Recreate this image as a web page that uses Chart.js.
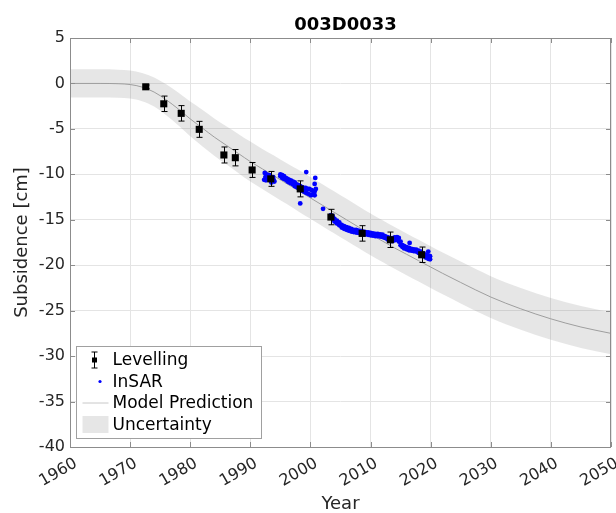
<!DOCTYPE html>
<html>
<head>
<meta charset="utf-8">
<script src="https://cdn.jsdelivr.net/npm/chart.js@4"></script>
<style>
  html, body { margin: 0; padding: 0; background: #fff; }
  #chart { display: block; }
</style>
</head>
<body>
<canvas id="chart" width="616" height="513"></canvas>
<script>
// texts
const titleText = '003D0033';
const xTitle = 'Year';
const yTitle = 'Subsidence [cm]';
const legendLabels = ['Levelling', 'InSAR', 'Model Prediction', 'Uncertainty'];

// axis ranges / ticks
const xTicks = [1960, 1970, 1980, 1990, 2000, 2010, 2020, 2030, 2040, 2050];
const yTicks = [5, 0, -5, -10, -15, -20, -25, -30, -35, -40];

// levelling benchmarks (cm) with error bars
const levYears  = [1972.6, 1975.6, 1978.5, 1981.5, 1985.6, 1987.5, 1990.3, 1993.4, 1998.3, 2003.4, 2008.6, 2013.3, 2018.5];
const levValues = [-0.37, -2.24, -3.29, -5.05, -7.87, -8.17, -9.52, -10.5, -11.6, -14.7, -16.5, -17.2, -18.85];
const levErrors = [0.2, 0.85, 0.85, 0.88, 0.88, 0.9, 0.82, 0.82, 0.88, 0.85, 0.85, 0.85, 0.85];

// model prediction and its uncertainty (half width, cm)
const modelYears  = [1960, 1965, 1968, 1970, 1972, 1974, 1976, 1978, 1980, 1982,
                     1984, 1986, 1988, 1990, 1992, 1994, 1996, 1998, 2000, 2002,
                     2004, 2006, 2008, 2010, 2012, 2014, 2016, 2018, 2020, 2022,
                     2025, 2030, 2035, 2040, 2045, 2050];
const modelValues = [0, 0, -0.03, -0.12, -0.4, -0.95, -1.8, -2.8, -3.9, -4.9,
                     -5.9, -6.8, -7.7, -8.6, -9.4, -10.2, -11.0, -11.8, -12.6, -13.4,
                     -14.2, -15.0, -15.8, -16.6, -17.35, -18.1, -18.8, -19.5, -20.2, -20.9,
                     -21.9, -23.5, -24.8, -25.9, -26.8, -27.5];
const modelSigma  = [1.55, 1.55, 1.55, 1.55, 1.55, 1.6, 1.7, 1.8, 1.9, 2.0,
                     2.05, 2.1, 2.15, 2.2, 2.2, 2.25, 2.25, 2.3, 2.3, 2.3,
                     2.3, 2.3, 2.3, 2.3, 2.3, 2.3, 2.3, 2.3, 2.3, 2.3,
                     2.3, 2.3, 2.3, 2.3, 2.3, 2.3];

// InSAR time series (cm)
const insarYears = [
  // early cluster
  1992.3, 1992.4, 1992.5, 1992.6, 1992.7, 1992.8, 1993.0, 1993.2, 1993.5, 1993.8, 1993.9, 1994.0,
  // 1995-2001
  1995.0, 1995.0, 1995.3, 1995.3, 1995.6, 1995.6, 1995.9, 1995.9, 1996.2, 1996.2,
  1996.5, 1996.5, 1996.8, 1996.8, 1997.1, 1997.1, 1997.4, 1997.4, 1997.7, 1997.7,
  1998.0, 1998.0, 1998.3, 1998.3, 1998.6, 1998.6, 1998.9, 1998.9, 1999.2, 1999.2,
  1999.5, 1999.5, 1999.8, 1999.8, 2000.1, 2000.1, 2000.4, 2000.4, 2000.7, 2000.7,
  1999.3, 2000.8, 2000.7, 1998.3, 2002.1, 2000.9,
  // 2003-2020
  2003.4, 2003.7, 2003.7, 2004.0, 2004.0, 2004.4, 2004.4, 2004.8, 2004.8, 2005.2, 2005.2,
  2005.6, 2005.6, 2006.0, 2006.0, 2006.4, 2006.4, 2006.8, 2006.8, 2007.2, 2007.2,
  2007.6, 2007.6, 2008.0, 2008.0, 2008.4, 2008.4, 2008.8, 2008.8, 2009.2, 2009.2,
  2009.6, 2009.6, 2010.0, 2010.0, 2010.4, 2010.4, 2010.8, 2010.8, 2011.2, 2011.2,
  2011.6, 2011.6, 2012.0, 2012.0, 2012.4, 2012.4, 2012.8, 2012.8, 2013.2, 2013.2,
  2013.6, 2013.6, 2014.0, 2014.0, 2014.4, 2014.4, 2014.7, 2014.7, 2015.0, 2015.0,
  2015.3, 2015.3, 2015.6, 2015.6, 2016.0, 2016.0, 2016.4, 2016.4, 2016.8, 2016.8,
  2017.2, 2017.2, 2017.6, 2017.6, 2018.0, 2018.0, 2018.4, 2018.4, 2018.8, 2018.8,
  2019.2, 2019.2, 2019.6, 2019.6, 2019.9, 2019.9,
  2016.5, 2019.6
];
const insarValues = [
  -10.6, -9.85, -10.3, -10.65, -10.0, -10.1, -10.45, -10.1, -10.9, -10.3, -10.65, -10.8,
  -10.0, -10.2, -10.1, -10.4, -10.2, -10.5, -10.4, -10.6, -10.5, -10.8,
  -10.6, -10.9, -10.7, -11.0, -10.8, -11.1, -10.9, -11.3, -11.1, -11.4,
  -11.2, -11.5, -11.3, -11.7, -11.4, -11.8, -11.5, -11.9, -11.5, -12.0,
  -11.6, -12.1, -11.6, -12.2, -11.7, -12.3, -11.8, -12.2, -11.9, -12.3,
  -9.75, -10.4, -11.05, -13.2, -13.8, -11.6,
  -14.5, -14.6, -14.9, -14.9, -15.2, -15.1, -15.4, -15.3, -15.6, -15.55, -15.85,
  -15.7, -16.0, -15.8, -16.1, -15.9, -16.2, -16.0, -16.3, -16.1, -16.35,
  -16.1, -16.4, -16.2, -16.45, -16.25, -16.5, -16.3, -16.55, -16.35, -16.6,
  -16.4, -16.65, -16.45, -16.7, -16.5, -16.75, -16.55, -16.8, -16.55, -16.8,
  -16.6, -16.85, -16.65, -16.9, -16.8, -17.0, -16.9, -17.15, -17.0, -17.3,
  -17.05, -17.35, -16.95, -17.25, -16.9, -17.2, -17.0, -17.4, -17.4, -17.8,
  -17.8, -18.0, -17.9, -18.15, -18.0, -18.25, -18.1, -18.35, -18.2, -18.4,
  -18.25, -18.45, -18.3, -18.5, -18.4, -18.65, -18.5, -18.8, -18.7, -19.0,
  -18.85, -19.15, -18.95, -19.3, -19.0, -19.35,
  -17.55, -18.5
];

// colours
const textColor = '#262626';
const axisColor = '#8c8c8c';
const gridColor = '#e4e4e4';
const bandColor = 'rgba(128,128,128,0.2)';
const modelColor = '#9e9e9e';
const insarColor = '#0000ff';
const levColor = '#000000';

const FONT = "'DejaVu Sans', sans-serif";
Chart.defaults.font.family = FONT;

const levPts = levYears.map((x, i) => ({ x, y: levValues[i] }));
const insarPts = insarYears.map((x, i) => ({ x, y: insarValues[i] }));
const modelPts = modelYears.map((x, i) => ({ x, y: modelValues[i] }));
const upperPts = modelYears.map((x, i) => ({ x, y: modelValues[i] + modelSigma[i] }));
const lowerPts = modelYears.map((x, i) => ({ x, y: modelValues[i] - modelSigma[i] }));

// error bars for the levelling points
const errorBars = {
  id: 'errorBars',
  afterDatasetsDraw(chart) {
    const { ctx, scales: { x, y } } = chart;
    ctx.save();
    ctx.strokeStyle = levColor;
    ctx.lineWidth = 1;
    levYears.forEach((yr, i) => {
      const px = Math.round(x.getPixelForValue(yr)) + 0.5;
      const top = y.getPixelForValue(levValues[i] + levErrors[i]);
      const bot = y.getPixelForValue(levValues[i] - levErrors[i]);
      ctx.beginPath();
      ctx.moveTo(px, top); ctx.lineTo(px, bot);
      ctx.moveTo(px - 3, top); ctx.lineTo(px + 3, top);
      ctx.moveTo(px - 3, bot); ctx.lineTo(px + 3, bot);
      ctx.stroke();
    });
    ctx.restore();
  }
};

// matlab style box with inward ticks, title and legend
const frame = {
  id: 'frame',
  afterDraw(chart) {
    const { ctx, chartArea: a, scales: { x, y } } = chart;
    ctx.save();
    ctx.strokeStyle = axisColor;
    ctx.lineWidth = 1;
    ctx.strokeRect(Math.round(a.left) + 0.5, Math.round(a.top) + 0.5,
                   Math.round(a.right - a.left) - 1, Math.round(a.bottom - a.top));
    ctx.beginPath();
    xTicks.forEach(v => {
      const px = Math.round(x.getPixelForValue(v)) + 0.5;
      ctx.moveTo(px, a.bottom); ctx.lineTo(px, a.bottom - 5);
      ctx.moveTo(px, a.top); ctx.lineTo(px, a.top + 5);
    });
    yTicks.forEach(v => {
      const py = Math.round(y.getPixelForValue(v)) + 0.5;
      ctx.moveTo(a.left, py); ctx.lineTo(a.left + 5, py);
      ctx.moveTo(a.right, py); ctx.lineTo(a.right - 5, py);
    });
    ctx.stroke();

    // title
    ctx.fillStyle = '#000';
    ctx.font = 'bold 18px ' + FONT;
    ctx.textAlign = 'center';
    ctx.textBaseline = 'middle';
    ctx.fillText(titleText, (a.left + a.right) / 2 + 5, 25);

    // legend
    const bx = Math.round(a.left) + 6.5, by = Math.round(a.bottom) - 100.5;
    const bw = 185, bh = 92;
    ctx.fillStyle = '#fff';
    ctx.fillRect(bx, by, bw, bh);
    ctx.strokeStyle = '#a0a0a0';
    ctx.strokeRect(bx, by, bw, bh);
    const rows = [13.5, 35, 56.5, 78].map(r => by + r);
    const sx0 = bx + 6, sx1 = bx + 32;
    // levelling symbol
    ctx.strokeStyle = levColor;
    ctx.beginPath();
    ctx.moveTo(bx + 18, rows[0] - 8); ctx.lineTo(bx + 18, rows[0] + 8);
    ctx.moveTo(bx + 15, rows[0] - 8); ctx.lineTo(bx + 21, rows[0] - 8);
    ctx.moveTo(bx + 15, rows[0] + 8); ctx.lineTo(bx + 21, rows[0] + 8);
    ctx.stroke();
    ctx.fillStyle = levColor;
    ctx.fillRect(bx + 15.5, rows[0] - 2.5, 5, 5);
    // insar dot
    ctx.fillStyle = insarColor;
    ctx.beginPath();
    ctx.arc(bx + 23.5, rows[1], 1.6, 0, Math.PI * 2);
    ctx.fill();
    // model line
    ctx.strokeStyle = '#c8c8c8';
    ctx.beginPath();
    ctx.moveTo(sx0, rows[2]); ctx.lineTo(sx1, rows[2]);
    ctx.stroke();
    // uncertainty patch
    ctx.fillStyle = bandColor;
    ctx.fillRect(sx0, rows[3] - 8.5, sx1 - sx0, 17);

    ctx.fillStyle = '#000';
    ctx.font = '17px ' + FONT;
    ctx.textAlign = 'left';
    legendLabels.forEach((t, i) => ctx.fillText(t, bx + 36, rows[i] + 1));
    ctx.restore();
  }
};

new Chart(document.getElementById('chart'), {
  type: 'scatter',
  data: {
    datasets: [
      { label: legendLabels[0], data: levPts, pointStyle: 'rect', pointRadius: 5,
        backgroundColor: levColor, borderColor: levColor, borderWidth: 0 },
      { label: legendLabels[1], data: insarPts, pointRadius: 2.4,
        backgroundColor: insarColor, borderColor: insarColor, borderWidth: 0 },
      { type: 'line', label: legendLabels[2], data: modelPts, borderColor: modelColor,
        borderWidth: 1, pointRadius: 0, cubicInterpolationMode: 'monotone', fill: false },
      { type: 'line', label: 'upper', data: upperPts, borderColor: 'transparent',
        borderWidth: 0, pointRadius: 0, cubicInterpolationMode: 'monotone', fill: false },
      { type: 'line', label: legendLabels[3], data: lowerPts, borderColor: 'transparent',
        borderWidth: 0, pointRadius: 0, cubicInterpolationMode: 'monotone',
        fill: '-1', backgroundColor: bandColor }
    ]
  },
  options: {
    responsive: false,
    animation: false,
    events: [],
    layout: { padding: { top: 38, right: 4, left: 0, bottom: 0 } },
    plugins: {
      legend: { display: false },
      tooltip: { enabled: false },
      title: { display: false }
    },
    scales: {
      x: {
        type: 'linear', min: 1960, max: 2050,
        afterBuildTicks: s => { s.ticks = xTicks.map(v => ({ value: v })); },
        ticks: { color: textColor, font: { size: 16 }, minRotation: 30, maxRotation: 30,
                 padding: 7, labelOffset: 6, callback: v => String(v) },
        grid: { color: gridColor, drawTicks: false },
        border: { display: false },
        title: { display: true, text: xTitle, color: textColor,
                 font: { size: 18, lineHeight: 1 }, padding: 0 },
        afterFit: s => { s.height = 66; s.paddingLeft = 0; s.paddingRight = 0; }
      },
      y: {
        min: -40, max: 5,
        afterBuildTicks: s => { s.ticks = yTicks.slice().reverse().map(v => ({ value: v })); },
        ticks: { color: textColor, font: { size: 16 }, padding: 5 },
        grid: { color: gridColor, drawTicks: false },
        border: { display: false },
        title: { display: true, text: yTitle, color: textColor,
                 font: { size: 18, lineHeight: 1 }, padding: { top: 13, bottom: 0 } },
        afterFit: s => { s.width = 70; s.paddingTop = 0; s.paddingBottom = 0; }
      }
    }
  },
  plugins: [errorBars, frame]
});
</script>
</body>
</html>
